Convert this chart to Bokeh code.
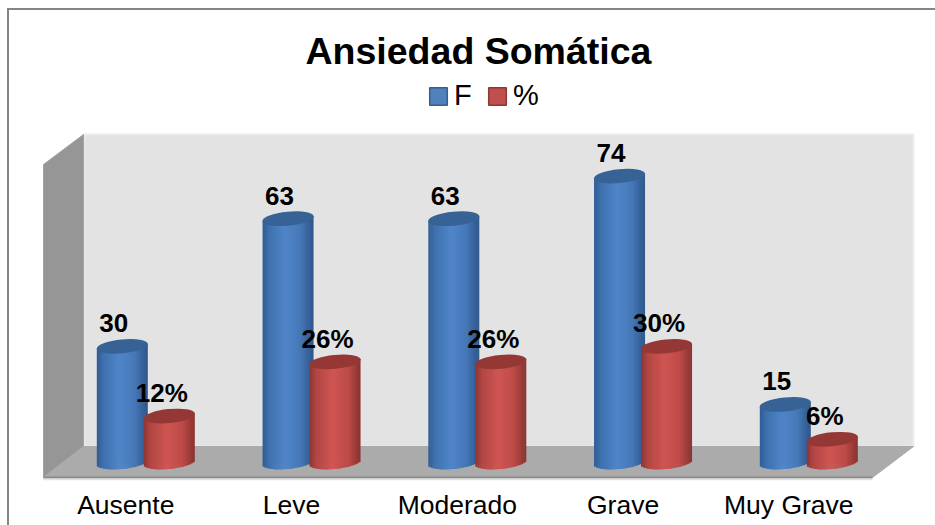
from bokeh.plotting import figure
from bokeh.models import Range1d, FixedTicker, Legend, LegendItem, ColumnDataSource
from bokeh.core.properties import value
from bokeh.embed import file_html
from bokeh.resources import INLINE
import math

categories = ["Ausente", "Leve", "Moderado", "Grave", "Muy Grave"]
freq = [30, 63, 63, 74, 15]
pct = [12, 26, 26, 30, 6]
freq_labels = ["30", "63", "63", "74", "15"]
pct_labels = ["12%", "26%", "26%", "30%", "6%"]

FONT = "Liberation Sans"
W, H = 928, 517
TOP, BOTTOM = 62, 44
BORDER = 2
FW = W
FH = H - TOP - BOTTOM
FRAME_L, FRAME_T = 7 + BORDER, 8 + BORDER + TOP
UX = 165.75  # px per category
UY = 3.87    # px per value unit
CX0 = 145.3
X0 = CX0 - FRAME_L   # px of category 0 inside the frame
Y0 = 462 - FRAME_T   # px of value 0 from frame top

def dx(px):
    return px / UX
def dy(px):
    return px / UY
def sx(px):
    return (px - CX0) / UX

p = figure(width=W, height=H, output_backend="svg", toolbar_location=None,
           x_range=Range1d(-X0 / UX, (FW - X0) / UX),
           y_range=Range1d(-(FH - Y0) / UY, Y0 / UY),
           min_border_top=TOP, min_border_bottom=BOTTOM, min_border_left=0, min_border_right=0,
           outline_line_color=None, background_fill_color="white", border_fill_color="white")
p.margin = (8, 0, 0, 7)
p.styles = {"border-top": "2px solid #858585", "border-left": "2px solid #858585"}
p.title.text = "Ansiedad Somática"
p.title.align = "left"
p.title.offset = 296
p.title.text_font = FONT
p.title.text_font_size = "37.5px"
p.title.text_font_style = "bold"
p.title.text_color = "black"
p.title.standoff = 1
p.grid.visible = False
p.yaxis.visible = False
ax = p.xaxis[0]
tick_shift = dx(-20)
tick_positions = [i + tick_shift for i in range(len(categories))]
ax.ticker = FixedTicker(ticks=tick_positions)
ax.major_label_overrides = {t: c for t, c in zip(tick_positions, categories)}
ax.major_label_text_font = FONT
ax.major_label_text_font_size = "26.5px"
ax.major_label_text_color = "black"
ax.major_label_standoff = 0
ax.axis_line_color = None
ax.major_tick_line_color = None
ax.minor_tick_line_color = None

# 3D box
xl, xb = sx(43), sx(83)
xr, xf = sx(913), sx(872)
yf, yb = dy(462 - 477), dy(462 - 446)
yt, ylt = dy(462 - 134), dy(462 - 164)
p.patch([xb, xr, xr, xb], [yb, yb, yt, yt], fill_color="#e3e3e3", line_color="#ececec", line_width=2)
p.patch([xl, xb, xb, xl], [yf, yb, yt, ylt], fill_color="#969696", line_color="#a2a2a2", line_width=1)
p.patch([xl, xb, xr, xf], [yf, yb, yb, yf], fill_color="#ababab", line_color="#ababab", line_width=1)
p.line([xl, xf], [yf, yf], line_color="#8a8a8a", line_width=2)
p.line([xl, xf], [yf - dy(2), yf - dy(2)], line_color="#e2e2e2", line_width=1.5)

R, B, TILT = 25.5, 6.5, 2.5
STRIPS = 26

def mix(a, b, f):
    ca = [int(a[i:i + 2], 16) for i in (1, 3, 5)]
    cb = [int(b[i:i + 2], 16) for i in (1, 3, 5)]
    return "#%02x%02x%02x" % tuple(round(u + (v - u) * f) for u, v in zip(ca, cb))

def shade(t, stops):
    for (t0, c0), (t1, c1) in zip(stops, stops[1:]):
        if t <= t1:
            return mix(c0, c1, (t - t0) / (t1 - t0))
    return stops[-1][1]

BLUE = [(-1, "#2f5c93"), (-0.75, "#3e70ad"), (-0.1, "#4f86c9"), (0.5, "#4577b6"), (0.85, "#345f97"), (1, "#2f5585")]
RED = [(-1, "#8e3432"), (-0.75, "#b04643"), (-0.1, "#cf5552"), (0.5, "#bd4b48"), (0.85, "#983a37"), (1, "#873230")]

def cylinders(values, offset, stops, base, edge, top_color):
    xs = [i + dx(offset) for i in range(len(values))]
    bar = p.vbar(x=xs, top=values, bottom=0, width=dx(2 * R - 8), fill_color=base, line_color=edge, line_width=1.5)
    d = dict(left=[], right=[], top=[], bottom=[], color=[])
    for x, v in zip(xs, values):
        for s in range(STRIPS):
            t0 = -1 + 2 * s / STRIPS
            t1 = t0 + 2 / STRIPS
            tm = (t0 + t1) / 2
            d["left"].append(x + dx(R * t0))
            d["right"].append(x + dx(R * t1 + (0.5 if s < STRIPS - 1 else 0)))
            d["top"].append(v + dy(TILT * tm))
            d["bottom"].append(dy(TILT * tm - B * math.sqrt(max(0, 1 - tm * tm))))
            d["color"].append(shade(tm, stops))
    p.quad(left="left", right="right", top="top", bottom="bottom", fill_color="color", line_color=None,
           source=ColumnDataSource(d))
    p.ellipse(x=xs, y=values, width=2 * R + 0.5, height=2 * B + 1, width_units="screen", height_units="screen",
              angle=math.atan2(TILT, R), fill_color=top_color, line_color=None)
    return bar

blue = cylinders(freq, -23.5, BLUE, "#4f81bd", "#385d8a", "#376296")
red = cylinders(pct, 23.5, RED, "#c0504d", "#8c3836", "#953735")

def labels(values, texts, offset):
    p.text(x=[i + dx(offset) for i in range(len(values))], y=values, text=texts,
           text_font=value(FONT), text_font_style="bold", text_font_size="26px", text_color="black",
           text_align="center", text_baseline="middle", y_offset=-23)

labels(freq, freq_labels, -32)
labels(pct, pct_labels, 16)

legend = Legend(items=[LegendItem(label="F", renderers=[blue]), LegendItem(label="%", renderers=[red])],
                orientation="horizontal", location=(418, 371), background_fill_alpha=0, border_line_color=None,
                label_text_font=FONT, label_text_font_size="29px", label_text_color="black",
                glyph_width=22, glyph_height=22, label_standoff=5, spacing=12, padding=6, margin=0)
p.add_layout(legend, "center")

open("out.html", "w").write(file_html(p, INLINE))
